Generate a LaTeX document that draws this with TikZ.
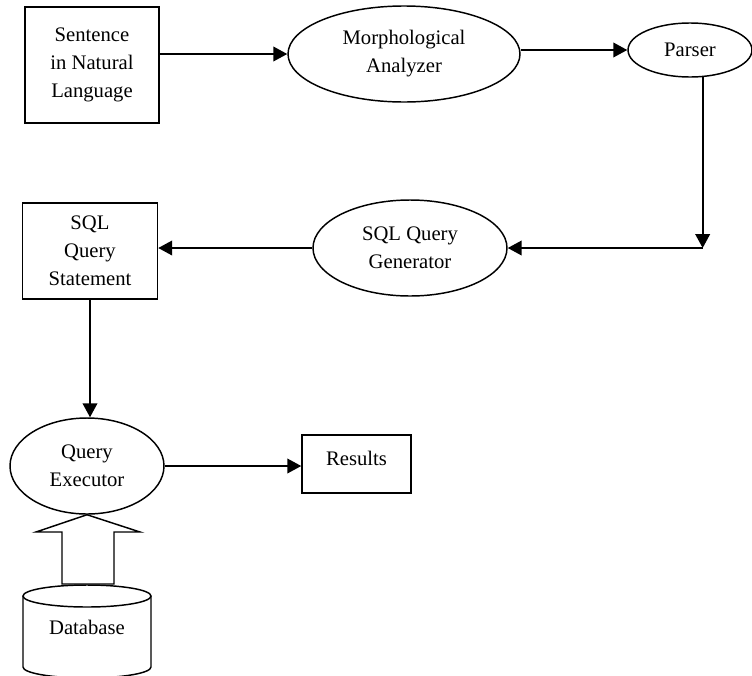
\documentclass[tikz,border=0pt]{standalone}
\usepackage{fontspec}
\setmainfont{Liberation Serif}
\usetikzlibrary{shapes.geometric,arrows.meta}
\begin{document}
\begin{tikzpicture}[x=0.75pt,y=0.75pt,
  every node/.style={font=\fontsize{15.5}{21}\selectfont, align=center, inner sep=0pt},
  boxnode/.style={draw, line width=1.1pt, rectangle},
  ellnode/.style={draw, line width=1.1pt, ellipse},
  arr/.style={line width=1.4pt, -{Triangle[length=10.5pt,width=11pt]}},
  shape line/.style={line width=1.1pt}]
\useasboundingbox (0,0) rectangle (752,-675);

\node[boxnode, minimum width=134*0.75pt, minimum height=116*0.75pt] (sent) at (92,-65)
  {Sentence\\in Natural\\Language};
\node[ellnode, minimum width=232*0.75pt, minimum height=96*0.75pt] (morph) at (404,-54)
  {Morphological\\Analyzer};
\node[ellnode, minimum width=124*0.75pt, minimum height=54*0.75pt] (parser) at (690,-50)
  {Parser};
\node[ellnode, minimum width=194*0.75pt, minimum height=96*0.75pt] (gen) at (410,-248)
  {SQL Query\\Generator};
\node[boxnode, minimum width=135*0.75pt, minimum height=96*0.75pt] (stmt) at (90,-251)
  {SQL\\Query\\Statement};
\node[ellnode, minimum width=154*0.75pt, minimum height=96*0.75pt] (exec) at (87,-466)
  {Query\\Executor};
\node[boxnode, minimum width=109*0.75pt, minimum height=58*0.75pt, text depth=9pt] (res) at (356.5,-464)
  {Results};

% database cylinder (cut by the bottom of the picture)
\draw[shape line] (23,-596) -- (23,-667)
  arc[start angle=180, end angle=360, x radius=64, y radius=11]
  -- (151,-596);
\draw[shape line, fill=white] (87,-596) ellipse [x radius=64, y radius=11];
\node (db) at (87,-627) {Database};

% hollow block arrow from the database up to the executor
\draw[shape line, fill=white, line join=miter] (exec.south) -- (140,-532) -- (114,-532) -- (114,-584)
  -- (62,-584) -- (62,-532) -- (36,-532) -- cycle;

% connectors
\coordinate (turn) at (parser.295 |- 0,-248);
\draw[arr] (sent.east |- morph.west) -- (morph.west);
\draw[arr] (morph.east |- parser.west) -- (parser.west);
\draw[arr] (parser.295) -- (turn);
\draw[arr] (turn) -- (gen.east);
\draw[arr] (gen.west) -- (gen.west -| stmt.east);
\draw[arr] (stmt.south) -- (stmt.south |- exec.north);
\draw[arr] (exec.east) -- (exec.east -| res.west);
\end{tikzpicture}
\end{document}
